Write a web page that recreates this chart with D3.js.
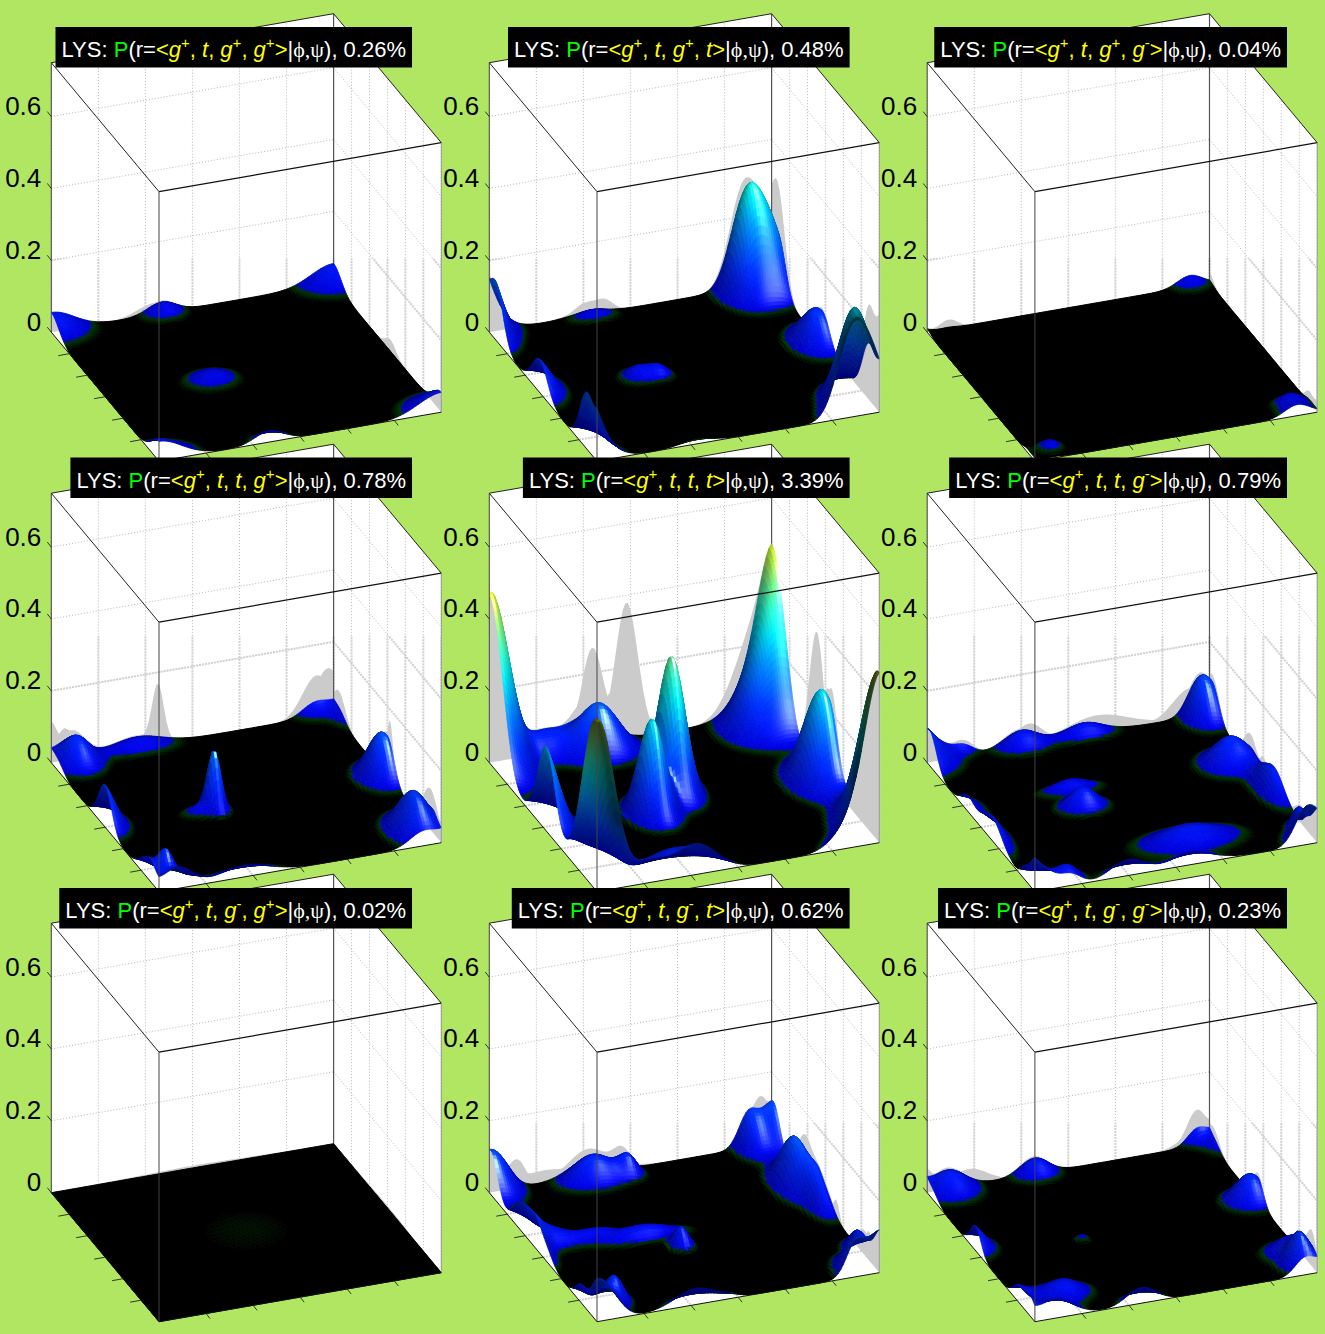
<!DOCTYPE html>
<html>
<head>
<meta charset="utf-8">
<script src="https://cdn.jsdelivr.net/npm/d3@7"></script>
<style>
  body { margin: 0; background: #b0e662; }
  svg { display: block; }
  text { font-family: "Liberation Sans", Arial, sans-serif; }
</style>
</head>
<body>
<div id="chart"></div>
<script>
// values
const chis3 = ["g+", "g+", "g+", "t", "t", "t", "g-", "g-", "g-"];
const chis4 = ["g+", "t", "g-", "g+", "t", "g-", "g+", "t", "g-"];
const percents = ["0.26", "0.48", "0.04", "0.78", "3.39", "0.79", "0.02", "0.62", "0.23"];
const zTicks = [0, 0.2, 0.4, 0.6];
const floorTicks = [1 / 6, 2 / 6, 3 / 6, 4 / 6, 5 / 6];

// one row per bump seen in the panel: [u, v, height, spread u, spread v], periodic in u and v
const peaksGGG = [[0, 0, .055, .07, .08], [.53, .365, .032, .05, .06], [.02, .39, .035, .04, .05]];
const peaksGGT = [[.05, .9, .27, .07, .05], [.08, .98, .1, .06, .04], [.02, 0, .05, .06, .06], [.9, .95, .24, .06, .05],
  [.47, .98, .1, .07, .05], [.494, .34, .035, .04, .04], [.51, .41, .03, .03, .03], [.036, .355, .025, .03, .06]];
const peaksGGM = [[0, .93, .03, .04, .045], [.92, .934, .028, .03, .04], [.94, .076, .025, .03, .03]];
const peaksTGP = [[.9, .94, .115, .07, .05], [.5, .98, .13, .06, .045], [.522, .378, .15, .03, .02], [.53, .34, .03, .03, .05],
  [.05, .07, .08, .06, .05], [.02, .3, .035, .04, .09], [.93, .05, .07, .025, .025]];
const peaksTTT = [[.97, .01, .44, .11, .055], [.42, .486, .38, .07, .04], [.555, .365, .27, .06, .04], [.53, .975, .26, .08, .055],
  [.07, .36, .14, .06, .07], [.1, .93, .2, .08, .07], [.03, .18, .06, .05, .06], [.95, .28, .05, .04, .08]];
const peaksTTM = [[.03, .96, .1, .06, .04], [0, .03, .05, .07, .05], [.38, .93, .08, .06, .06], [.6, .99, .07, .09, .035],
  [.5, .36, .06, .04, .05], [.37, .365, .035, .03, .07], [.857, .6, .05, .06, .11], [.02, .55, .04, .03, .07],
  [.02, .33, .05, .04, .06], [.9, .97, .05, .03, .02], [.97, .13, .04, .035, .035]];
const peaksMGP = [[.5, .5, .007, .2, .2]];
const peaksMGT = [[0, .92, .1, .07, .035], [.03, .99, .05, .05, .03], [.31, .96, .134, .07, .04], [.5, .98, .06, .07, .03],
  [0, .03, .09, .07, .045], [.05, .35, .075, .05, .07], [.06, .47, .05, .03, .03], [.9, .1, .07, .035, .03],
  [.6, .45, .06, .03, .025], [.5, .35, .04, .03, .1], [.45, .2, .03, .025, .07], [.85, .98, .06, .05, .025], [.42, .03, .05, .05, .07]];
const peaksMGM = [[.95, .955, .09, .04, .035], [.85, .97, .05, .05, .06], [.03, .07, .06, .06, .06], [.02, .377, .05, .04, .05],
  [.45, .972, .08, .05, .05], [.514, .353, .018, .02, .02], [.864, .152, .045, .05, .06]];
const panelPeaks = [peaksGGG, peaksGGT, peaksGGM, peaksTGP, peaksTTT, peaksTTM, peaksMGP, peaksMGT, peaksMGM];

// colormap of the surface
const colorStops = [0, .0055, .009, .012, .015, .1, .2, .27, .33, .42, .5];
const colorValues = ["#000000", "#000000", "#002200", "#003300", "#0000c8", "#0030ff", "#0090ff", "#00e0f0", "#30ffd0", "#a0f060", "#e8f000"];

const colX = [51.3, 489.3, 927.2];
const rowY = [332.2, 762.7, 1192.7];
const titleEnd = [406, 843.6, 1281];
const titleTop = [27, 457.5, 888];
const blurBand = [74, 74, 74, 127, 127, 127, 0, 70, 70];
const N = 110;

const color = d3.scaleLinear().domain(colorStops).range(colorValues).clamp(true);
const zScale = d3.scaleLinear().domain([0, 0.75]).range([0, -269.5]);
const uX = d3.scaleLinear().domain([0, 1]).range([0, 107.7]);
const uY = d3.scaleLinear().domain([0, 1]).range([0, 129]);
const vX = d3.scaleLinear().domain([0, 1]).range([0, 282.3]);
const vY = d3.scaleLinear().domain([0, 1]).range([0, -49]);
const project = (u, v, z) => [uX(u) + vX(v), uY(u) + vY(v) + zScale(z)];

const svg = d3.select("#chart").append("svg").attr("width", 1325).attr("height", 1334);
const line = d3.line();

function heights(peaks) {
  const grid = [];
  for (let i = 0; i <= N; i++) {
    const row = [];
    for (let j = 0; j <= N; j++) {
      let z = 0;
      peaks.forEach(p => {
        [-1, 0, 1].forEach(a => [-1, 0, 1].forEach(b => {
          const du = (i / N - p[0] + a) / p[3], dv = (j / N - p[1] + b) / p[4];
          z += p[2] * Math.exp(-0.5 * (du * du + dv * dv));
        }));
      });
      row.push(z);
    }
    grid.push(row);
  }
  return grid;
}

const norm = a => { const l = Math.hypot(a[0], a[1], a[2]); return a.map(d => d / l); };
const lightDir = norm([.7, 0, .7]);
const halfDir = norm([.85, .15, .55]);

function shade(z, u, dzu, dzv) {
  const c = d3.rgb(color(z));
  if (z < .015) return c.formatHex();
  const n = norm([-dzu, -dzv, 1]);
  const diff = Math.max(0, n[0] * lightDir[0] + n[1] * lightDir[1] + n[2] * lightDir[2]);
  const s = Math.max(0, n[0] * halfDir[0] + n[1] * halfDir[1] + n[2] * halfDir[2]);
  // the part of the surface nearest the viewer sits in shade
  const t = Math.min(1, Math.max(0, (u - .84) / .12));
  const dim = 1 - .55 * t * Math.min(1, Math.pow(z / .18, 2));
  const k = (.55 + .6 * diff) * dim;
  const spec = .8 * Math.pow(s, 30) * Math.min(1, z / .1) * dim;
  const q = v => Math.min(255, Math.round((v * k + spec * 255) / 4) * 4);
  return d3.rgb(q(c.r), q(c.g), q(c.b)).formatHex();
}

function gridLines() {
  const wallLines = [];
  [0, ...floorTicks, 1].forEach(t => {
    wallLines.push([project(0, t, 0), project(0, t, .75)]);
    wallLines.push([project(t, 1, 0), project(t, 1, .75)]);
  });
  zTicks.slice(1).forEach(z => {
    wallLines.push([project(0, 0, z), project(0, 1, z)]);
    wallLines.push([project(0, 1, z), project(1, 1, z)]);
  });
  floorTicks.forEach(t => {
    wallLines.push([project(0, t, 0), project(1, t, 0)]);
    wallLines.push([project(t, 0, 0), project(t, 1, 0)]);
  });
  return wallLines;
}

panelPeaks.forEach((peaks, idx) => {
  const col = idx % 3, row = Math.floor(idx / 3);
  const g = svg.append("g").attr("transform", `translate(${colX[col]},${rowY[row]})`);
  const grid = heights(peaks);

  // white box
  g.append("path")
    .attr("d", line([project(0, 0, 0), project(1, 0, 0), project(1, 1, 0), project(1, 1, .75), project(0, 1, .75), project(0, 0, .75)]) + "Z")
    .attr("fill", "#fff");

  // grid, thin dotted, and the thick blurred copy lower down
  const wallLines = gridLines();
  g.append("g").selectAll("path").data(wallLines).join("path")
    .attr("d", line).attr("fill", "none")
    .attr("stroke", "#999").attr("stroke-width", .7).attr("stroke-dasharray", "1,2");

  if (blurBand[idx] > 0) {
    g.append("clipPath").attr("id", `band-${idx}`).append("rect")
      .attr("x", -10).attr("y", -blurBand[idx]).attr("width", 420).attr("height", 300);
    g.append("g").attr("clip-path", `url(#band-${idx})`)
      .selectAll("path").data(wallLines).join("path")
      .attr("d", line).attr("fill", "none")
      .attr("stroke", "#d2d2d2").attr("stroke-width", 2).attr("stroke-dasharray", "2,1");
  }

  // grey shadows on the two back walls
  const steps = d3.range(N + 1);
  const leftMax = steps.map(j => d3.max(steps, i => grid[i][j]));
  const rightMax = steps.map(i => d3.max(grid[i]));
  const leftArea = d3.area().x(j => project(0, j / N, 0)[0]).y0(j => project(0, j / N, 0)[1]).y1(j => project(0, j / N, leftMax[j])[1]);
  const rightArea = d3.area().x(i => project(i / N, 1, 0)[0]).y0(i => project(i / N, 1, 0)[1]).y1(i => project(i / N, 1, rightMax[i])[1]);
  g.append("path").attr("d", leftArea(steps)).attr("fill", "#cbcbcb");
  g.append("path").attr("d", rightArea(steps)).attr("fill", "#cbcbcb");

  g.append("path").attr("d", line([project(0, 1, 0), project(0, 1, .75)])).attr("stroke", "#555").attr("stroke-width", 1.2);

  // surface cells back to front, the flat black ones go first in one path
  let blackCells = "";
  const runs = [];
  for (let i = 0; i < N; i++) {
    for (let j = N - 1; j >= 0; j--) {
      const z = (grid[i][j] + grid[i + 1][j] + grid[i][j + 1] + grid[i + 1][j + 1]) / 4;
      const dzu = (grid[i + 1][j] + grid[i + 1][j + 1] - grid[i][j] - grid[i][j + 1]) / 2 * N / .75;
      const dzv = (grid[i][j + 1] + grid[i + 1][j + 1] - grid[i][j] - grid[i + 1][j]) / 2 * N / .75;
      const fill = shade(z, (i + .5) / N, dzu, dzv);
      const d = line([
        project(i / N, j / N, grid[i][j]),
        project((i + 1) / N, j / N, grid[i + 1][j]),
        project((i + 1) / N, (j + 1) / N, grid[i + 1][j + 1]),
        project(i / N, (j + 1) / N, grid[i][j + 1])
      ]) + "Z";
      if (fill === "#000000") blackCells += d;
      else if (runs.length && runs[runs.length - 1].fill === fill) runs[runs.length - 1].d += d;
      else runs.push({ fill, d });
    }
  }
  g.append("path").attr("d", blackCells).attr("fill", "#000").attr("stroke", "#000").attr("stroke-width", 1);
  g.append("g").selectAll("path").data(runs).join("path")
    .attr("d", d => d.d).attr("fill", d => d.fill)
    .attr("stroke", d => d.fill).attr("stroke-width", .8);

  // box edges in front of the surface
  const edges = [
    { a: [0, 0, 0], b: [0, 0, .75], c: "#444", w: 1 },
    { a: [0, 0, .75], b: [1, 0, .75], c: "#222", w: 1 },
    { a: [1, 0, .75], b: [1, 1, .75], c: "#111", w: 1.3 },
    { a: [0, 1, .75], b: [1, 1, .75], c: "#222", w: 1 },
    { a: [0, 0, .75], b: [0, 1, .75], c: "#222", w: 1 },
    { a: [1, 0, 0], b: [1, 0, .75], c: "#444", w: 1 },
    { a: [1, 1, 0], b: [1, 1, .75], c: "#888", w: .8 },
    { a: [0, 0, 0], b: [1, 0, 0], c: "#111", w: 1 },
    { a: [1, 0, 0], b: [1, 1, 0], c: "#111", w: 1 }
  ];
  g.append("g").selectAll("path").data(edges).join("path")
    .attr("d", d => line([project(...d.a), project(...d.b)]))
    .attr("stroke", d => d.c).attr("stroke-width", d => d.w).attr("fill", "none");

  // ticks
  const ticks = [];
  zTicks.forEach(z => { const p = project(0, 0, z); ticks.push([p, [p[0] - 4, p[1] - 5]]); });
  floorTicks.forEach(t => {
    const a = project(t, 0, 0); ticks.push([a, [a[0] - 11, a[1] + 2]]);
    const b = project(1, t, 0); ticks.push([b, [b[0] + 4, b[1] + 5]]);
  });
  g.append("g").selectAll("path").data(ticks).join("path")
    .attr("d", line).attr("stroke", "#222").attr("stroke-width", .9);

  g.append("g").selectAll("text").data(zTicks).join("text")
    .attr("x", -10).attr("y", z => zScale(z) - 1.5)
    .attr("text-anchor", "end").attr("font-size", 26).attr("fill", "#000")
    .text(z => z === 0 ? "0" : d3.format(".1f")(z));

  // title
  const title = svg.append("g");
  const bar = title.append("rect").attr("fill", "#000").attr("y", titleTop[row]).attr("height", 40.5);
  const txt = title.append("text").attr("x", titleEnd[col]).attr("y", titleTop[row] + 30)
    .attr("text-anchor", "end").attr("font-size", 22).attr("fill", "#fff").attr("xml:space", "preserve");
  const add = (s, fill, opts = {}) => {
    const t = txt.append("tspan").text(s);
    if (fill) t.attr("fill", fill);
    if (opts.italic) t.attr("font-style", "italic");
    if (opts.size) t.attr("font-size", opts.size);
    if (opts.dy) t.attr("dy", opts.dy);
    if (opts.family) t.attr("font-family", opts.family);
  };
  const chi = (name, sep) => {
    add(name[0], "#ffff00", { italic: true });
    if (name.length > 1) {
      add(name[1] === "-" ? "-" : "+", "#ffff00", { size: 15, dy: -9 });
      add(sep, "#ffff00", { dy: 9 });
    } else add(sep, "#ffff00");
  };
  add("LYS: ");
  add("P", "#00ff00");
  add("(r=");
  add("<", "#ffff00");
  chi("g+", ", ");
  add("t", "#ffff00", { italic: true });
  add(", ", "#ffff00");
  chi(chis3[idx], ", ");
  chi(chis4[idx], ">");
  add("|");
  add("ϕ,ψ", null, { family: "Liberation Serif" });
  add(`), ${percents[idx]}%`);
  const w = txt.node().getComputedTextLength();
  bar.attr("x", titleEnd[col] - w - 6).attr("width", w + 12);
});
</script>
</body>
</html>
